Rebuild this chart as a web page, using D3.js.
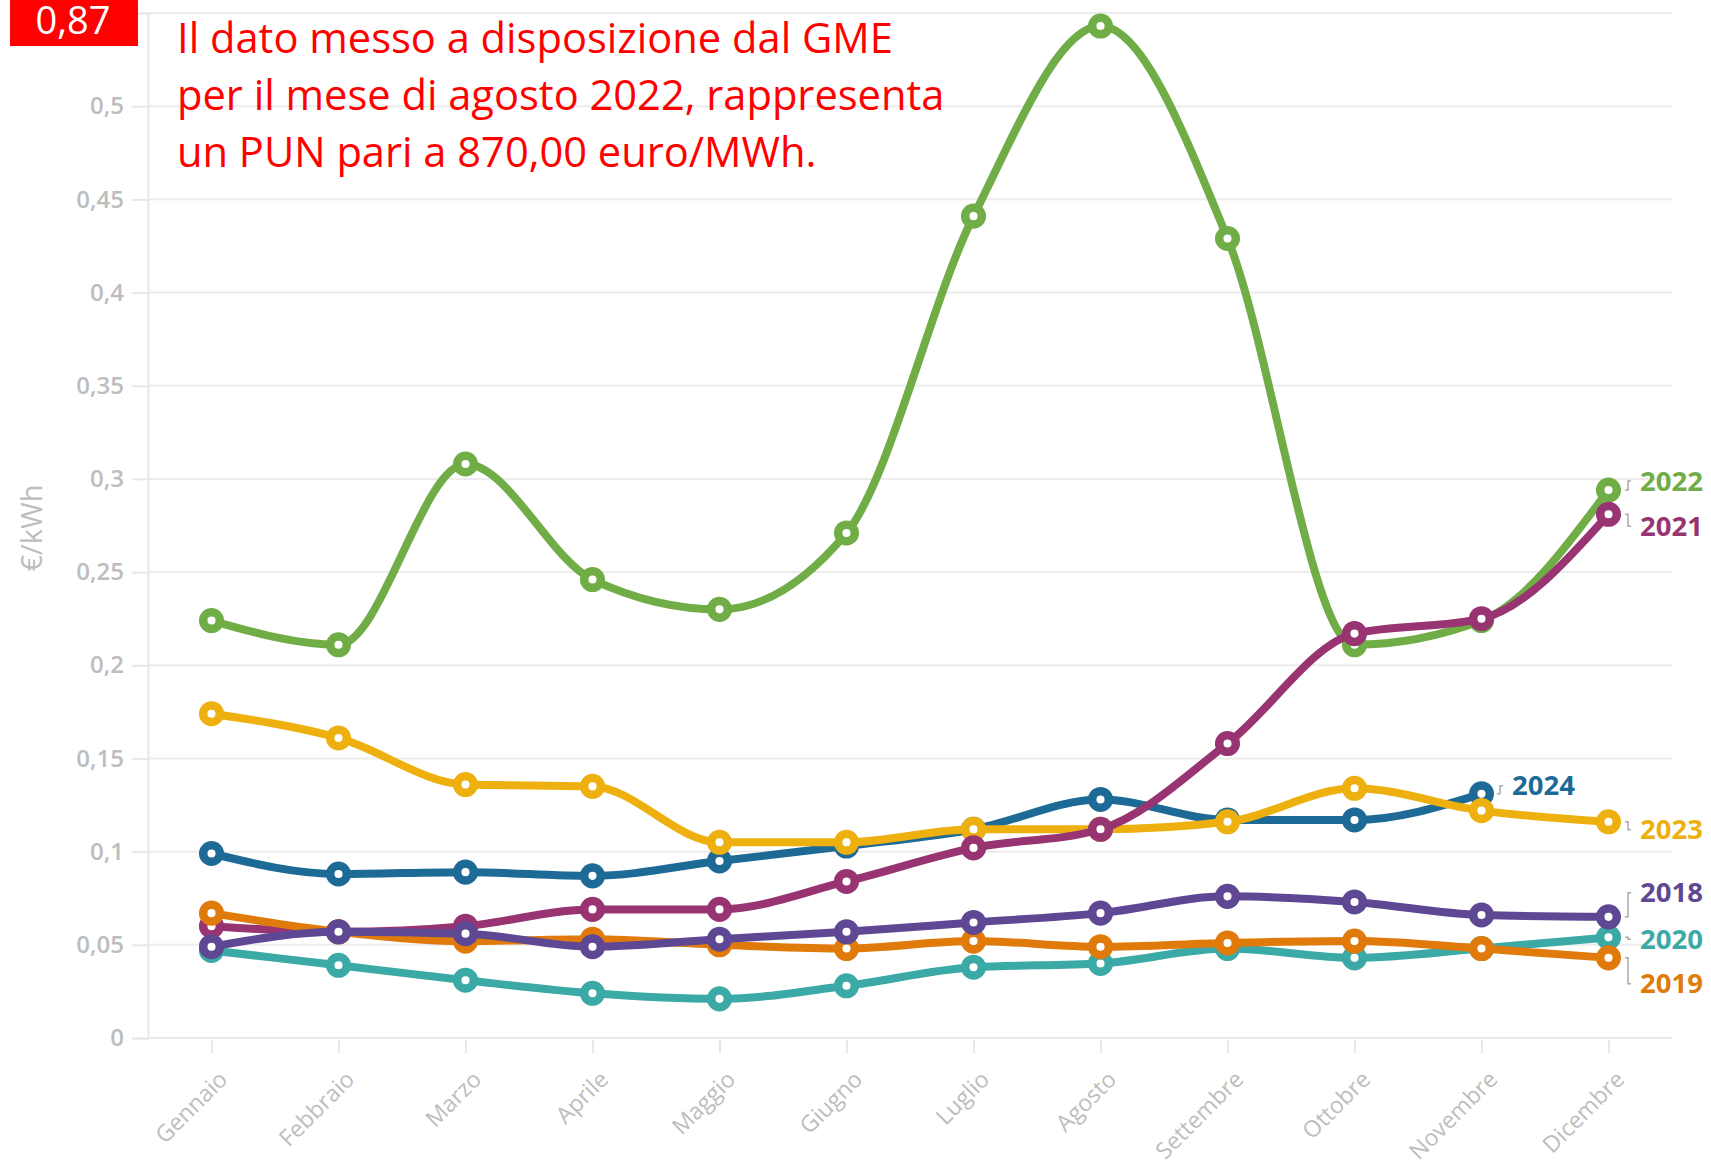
<!DOCTYPE html>
<html><head><meta charset="utf-8">
<script src="https://cdn.jsdelivr.net/npm/d3@7"></script>
<style>html,body{margin:0;padding:0;background:#fff;}svg{display:block;}</style>
</head><body>
<svg id="c" width="1711" height="1166"></svg>
<script>
const months = ["Gennaio","Febbraio","Marzo","Aprile","Maggio","Giugno","Luglio","Agosto","Settembre","Ottobre","Novembre","Dicembre"];
const yTicks = [0,0.05,0.1,0.15,0.2,0.25,0.3,0.35,0.4,0.45,0.5,0.55];
const years = ["2024","2023","2022","2021","2020","2019","2018"];
const v2018 = [0.049,0.057,0.056,0.049,0.053,0.057,0.062,0.067,0.076,0.073,0.066,0.065];
const v2019 = [0.067,0.057,0.052,0.053,0.050,0.048,0.052,0.049,0.051,0.052,0.048,0.043];
const v2020 = [0.047,0.039,0.031,0.024,0.021,0.028,0.038,0.040,0.048,0.043,0.048,0.054];
const v2021 = [0.060,0.057,0.060,0.069,0.069,0.084,0.102,0.112,0.158,0.217,0.225,0.281];
const v2022 = [0.224,0.211,0.308,0.246,0.230,0.271,0.441,0.543,0.429,0.211,0.224,0.294];
const v2023 = [0.174,0.161,0.136,0.135,0.105,0.105,0.112,0.112,0.116,0.134,0.122,0.116];
const v2024 = [0.099,0.088,0.089,0.087,0.095,0.103,0.112,0.128,0.117,0.117,0.131];
const annotationLines = ["Il dato messo a disposizione dal GME","per il mese di agosto 2022, rappresenta","un PUN pari a 870,00 euro/MWh."];
const boxLabel = "0,87";
const yTitle = "€/kWh";

const seriesValues = {"2018":v2018,"2019":v2019,"2020":v2020,"2021":v2021,"2022":v2022,"2023":v2023,"2024":v2024};
const colors = {"2018":"#5f4893","2019":"#e07b0b","2020":"#3ba9a5","2021":"#983471","2022":"#70ad47","2023":"#edb00e","2024":"#1d6a97"};

const svg = d3.select("#c");
const L = 148, R = 1672, T = 13, B = 1038;
const x = d3.scalePoint().domain(months).range([L, R]).padding(0.5);
const y = d3.scaleLinear().domain([0, 0.55]).range([B, T]);
const fmt = v => v > 0.52 ? "" : String(+v.toFixed(2)).replace(".", ",");
const axFont = "'Open Sans', sans-serif";

// gridlines
svg.append("g").selectAll("line").data(yTicks.filter(d => d > 0)).join("line")
  .attr("x1", L).attr("x2", R).attr("y1", d => y(d)).attr("y2", d => y(d))
  .attr("stroke", "#ececec").attr("stroke-width", 2);

// y axis
const ya = svg.append("g").attr("transform", `translate(${L},0)`)
  .call(d3.axisLeft(y).tickValues(yTicks).tickFormat(fmt).tickSize(16).tickPadding(8));
ya.select(".domain").attr("stroke", "#e8e8e8").attr("stroke-width", 2);
ya.selectAll(".tick line").attr("stroke", "#e8e8e8").attr("stroke-width", 2);
ya.selectAll(".tick text").attr("fill", "#bdbdbd").style("font-family", axFont).style("font-size", "24px").style("font-weight", "600");

// x axis
const xa = svg.append("g").attr("transform", `translate(0,${B})`)
  .call(d3.axisBottom(x).tickSize(15).tickPadding(6));
xa.select(".domain").attr("stroke", "#e8e8e8").attr("stroke-width", 2).attr("d", `M${L},0H${R}`);
xa.selectAll(".tick line").attr("stroke", "#e8e8e8").attr("stroke-width", 2).attr("y1", 2);
xa.selectAll(".tick text").attr("fill", "#bdbdbd").style("font-family", axFont).style("font-size", "23px")
  .attr("text-anchor", "end").attr("dy", 0).attr("transform", "translate(2,28) rotate(-45)");

// y title
svg.append("text").attr("transform", "translate(42,528) rotate(-90)").attr("text-anchor", "middle")
  .attr("fill", "#bdbdbd").style("font-family", axFont).style("font-size", "29px").text(yTitle);

// lines
const line = d3.line().x((d, i) => x(months[i])).y(d => y(d)).curve(d3.curveMonotoneX);
years.forEach(yr => {
  const vals = seriesValues[yr];
  const g = svg.append("g");
  g.append("path").attr("d", line(vals)).attr("fill", "none").attr("stroke", colors[yr])
    .attr("stroke-width", 8).attr("stroke-linejoin", "round").attr("stroke-linecap", "round");
  g.selectAll("circle").data(vals).join("circle")
    .attr("cx", (d, i) => x(months[i])).attr("cy", d => y(d)).attr("r", 8.3)
    .attr("fill", "#fff").attr("stroke", colors[yr]).attr("stroke-width", 8.5);
});

// right-side labels (label y offsets from the data point)
const labelInfo = [
  {yr:"2022", dy:-9, lx:1640},
  {yr:"2021", dy:12, lx:1640},
  {yr:"2024", dy:-8, lx:1512},
  {yr:"2023", dy:8, lx:1640},
  {yr:"2018", dy:-24, lx:1640},
  {yr:"2020", dy:2, lx:1640},
  {yr:"2019", dy:26, lx:1640}
];
labelInfo.forEach(o => {
  const vals = seriesValues[o.yr];
  const i = vals.length - 1;
  const py = y(vals[i]);
  const ly = py + o.dy;
  const bx = o.lx - 12;
  svg.append("path")
    .attr("d", `M${bx - 3},${py}H${bx}V${ly}H${bx + 3}`)
    .attr("fill", "none").attr("stroke", "#aaa").attr("stroke-width", 1.5);
  svg.append("text").attr("x", o.lx).attr("y", ly).attr("dy", "0.35em")
    .attr("fill", colors[o.yr]).style("font-family", "'Open Sans', sans-serif")
    .style("font-size", "27.5px").style("font-weight", "700").text(o.yr);
});

// red box
svg.append("rect").attr("x", 10).attr("y", 0).attr("width", 128).attr("height", 46).attr("fill", "#ff0000");
svg.append("text").attr("x", 73).attr("y", 34).attr("text-anchor", "middle").attr("fill", "#fff")
  .style("font-family", "'Open Sans', sans-serif").style("font-size", "38px").text(boxLabel);

// annotation
const ann = svg.append("g");
const targetW = 716;
const t0 = ann.append("text").attr("x", 177).attr("y", 53).attr("fill", "#ff0000")
  .style("font-family", "'Open Sans', sans-serif").style("font-size", "40px").text(annotationLines[0]);
const w0 = t0.node().getComputedTextLength();
const fs = 40 * targetW / w0;
t0.style("font-size", fs + "px");
annotationLines.slice(1).forEach((s, k) => {
  ann.append("text").attr("x", 177).attr("y", 53 + 57 * (k + 1)).attr("fill", "#ff0000")
    .style("font-family", "'Open Sans', sans-serif").style("font-size", fs + "px").text(s);
});
</script>
</body></html>
